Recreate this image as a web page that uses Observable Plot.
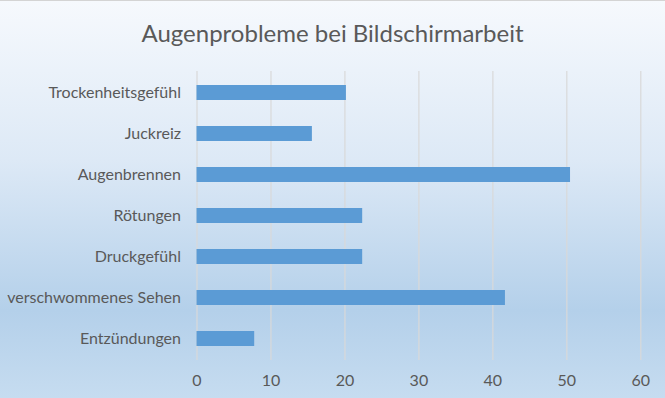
<!DOCTYPE html>
<html>
<head>
<meta charset="utf-8">
<script src="https://cdn.jsdelivr.net/npm/d3@7"></script>
<script src="https://cdn.jsdelivr.net/npm/@observablehq/plot@0.6"></script>
<style>
  html, body { margin: 0; padding: 0; }
  #chart {
    position: relative; width: 665px; height: 398px; overflow: hidden; box-sizing: border-box;
    border-top: 1px solid #d4d4d4;
    background: linear-gradient(to bottom, #f6f9fd 0%, #dde9f6 40%, #b4d0ea 78%, #c6dcf0 100%);
    font-family: Lato, "Open Sans", sans-serif;
  }
  #title {
    height: 59px; line-height: 64px; text-align: center; font-size: 24px; color: #595959;
  }
</style>
</head>
<body>
<div id="chart"><div id="title">Augenprobleme bei Bildschirmarbeit</div></div>
<script>
const categories = ["Trockenheitsgefühl", "Juckreiz", "Augenbrennen", "Rötungen", "Druckgefühl", "verschwommenes Sehen", "Entzündungen"];
const values = [20.2, 15.6, 50.5, 22.4, 22.4, 41.7, 7.8];
const xTicks = [0, 10, 20, 30, 40, 50, 60];

const data = categories.map((c, i) => ({category: c, value: values[i]}));

const plot = Plot.plot({
  width: 665,
  height: 338,
  marginLeft: 196.5,
  marginRight: 24.7,
  marginTop: 11,
  marginBottom: 38,
  style: {background: "transparent", fontFamily: "Lato, 'Open Sans', sans-serif", fontSize: "16px", color: "#595959"},
  x: {domain: [0, 60], ticks: xTicks, tickSize: 0, tickPadding: 14, label: null},
  y: {domain: categories, paddingInner: 0.64, paddingOuter: 0.32, tickSize: 0, tickPadding: 16, label: null},
  marks: [
    Plot.ruleX(xTicks, {stroke: "#d9d9d9", strokeWidth: 1.2}),
    Plot.barX(data, {x: "value", y: "category", fill: "#5b9bd5"})
  ]
});
document.getElementById("chart").appendChild(plot);
</script>
</body>
</html>
